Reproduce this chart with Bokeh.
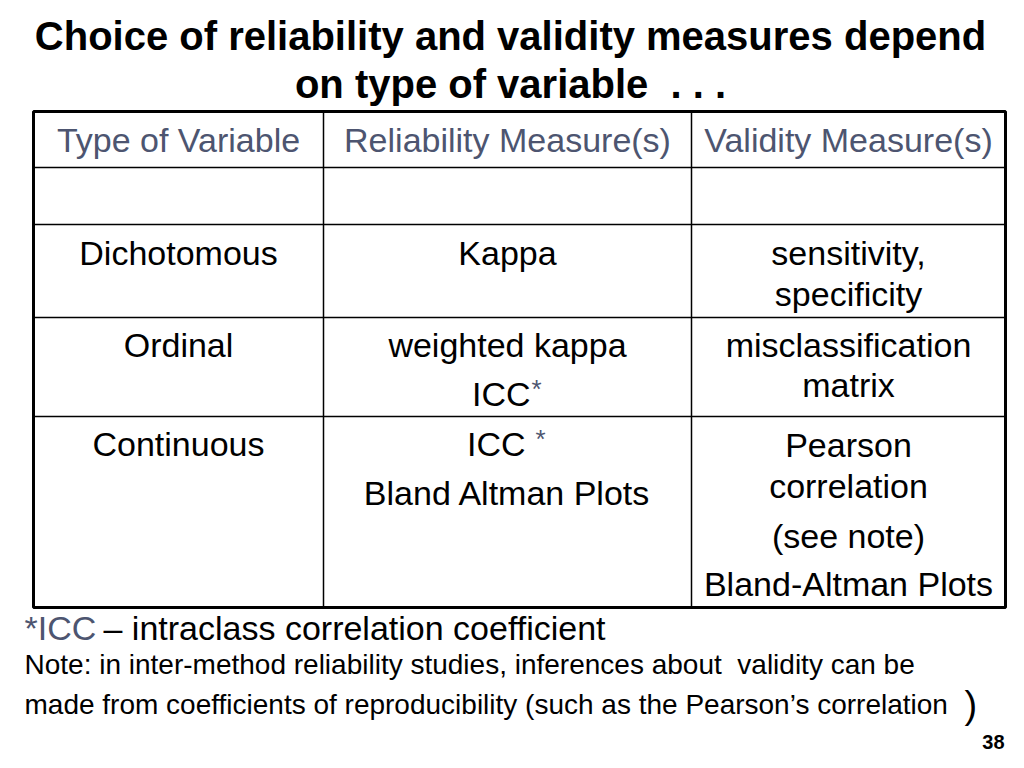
from bokeh.plotting import figure
from bokeh.models import Range1d
from bokeh.core.properties import value
from bokeh.embed import file_html
from bokeh.resources import INLINE

# ---------------- data (texts) ----------------
title_lines = ["Choice of reliability and validity measures depend", "on type of variable\u00a0 . . ."]
headers = ["Type of Variable", "Reliability Measure(s)", "Validity Measure(s)"]
var_types = ["Dichotomous", "Ordinal", "Continuous"]
reliability = [["Kappa"], ["weighted kappa", "ICC"], ["ICC", "Bland Altman Plots"]]
validity = [["sensitivity,", "specificity"], ["misclassification", "matrix"],
            ["Pearson", "correlation", "(see note)", "Bland-Altman Plots"]]
footnote_key = "*ICC"
footnote_text = "\u2013 intraclass correlation coefficient"
note_lines = ["Note: in inter-method reliability studies, inferences about\u00a0 validity can be",
              "made from coefficients of reproducibility (such as the Pearson\u2019s correlation"]
page_number = "38"

# ---------------- layout ----------------
FONT = value("Liberation Sans")
SLATE = "#4d5570"
col_edges = [33, 323, 691, 1005]
row_edges = [111, 167, 224, 317, 416, 607]
col_centers = [(a + b) / 2 for a, b in zip(col_edges[:-1], col_edges[1:])]

p = figure(width=1008, height=752, output_backend="svg", toolbar_location=None,
           x_range=Range1d(0, 1008), y_range=Range1d(752, 0), min_border=0)
p.axis.visible = False
p.grid.visible = False
p.outline_line_color = None
p.background_fill_color = "white"

# grid lines
inner_x = col_edges[1:-1]
p.segment(x0=inner_x, x1=inner_x, y0=[row_edges[0]] * len(inner_x), y1=[row_edges[-1]] * len(inner_x),
          line_color="black", line_width=1.5)
inner_y = row_edges[1:-1]
p.segment(x0=[col_edges[0]] * len(inner_y), x1=[col_edges[-1]] * len(inner_y), y0=inner_y, y1=inner_y,
          line_color="black", line_width=1.5)
# outer border
p.quad(left=[col_edges[0]], right=[col_edges[-1]], top=[row_edges[0]], bottom=[row_edges[-1]],
       fill_color=None, line_color="black", line_width=3)

# title
p.text(x=[510, 510], y=[35, 83], text=title_lines, text_font=FONT, text_font_style="bold",
       text_font_size="40px", text_align="center", text_baseline="middle", text_color="black")

# headers
hy = (row_edges[0] + row_edges[1]) / 2
p.text(x=col_centers, y=[hy] * 3, text=headers, text_font=FONT, text_font_size="34px",
       text_align="center", text_baseline="middle", text_color=SLATE)

body_size = "34px"
row_first_y = [252, 344, 443]

# column 1
p.text(x=[col_centers[0]] * 3, y=row_first_y, text=var_types, text_font=FONT, text_font_size=body_size,
       text_align="center", text_baseline="middle", text_color="black")

# column 2 (reliability), with slate asterisks on ICC
xs, ys, ts = [], [], []
ay = []
for r, lines in enumerate(reliability):
    for k, t in enumerate(lines):
        y = row_first_y[r] + 49 * k
        if t == "ICC":
            ay.append(y)
        else:
            xs.append(col_centers[1]); ys.append(y); ts.append(t)
p.text(x=xs, y=ys, text=ts, text_font=FONT, text_font_size=body_size,
       text_align="center", text_baseline="middle", text_color="black")
# "ICC*" and "ICC *"
icc_x = [col_centers[1] + 23, col_centers[1] + 18]
p.text(x=icc_x, y=ay, text=["ICC", "ICC"], text_font=FONT, text_font_size=body_size,
       text_align="right", text_baseline="middle", text_color="black")
p.text(x=[icc_x[0] + 1, icc_x[1] + 10], y=[a - 5 for a in ay], text=["*", "*"], text_font=FONT,
       text_font_size="26px", text_align="left", text_baseline="middle", text_color=SLATE)

# column 3 (validity)
vy_offsets = [[0, 41], [0, 40], [1, 42, 92, 140]]
xs, ys, ts = [], [], []
for r, lines in enumerate(validity):
    for k, t in enumerate(lines):
        xs.append(col_centers[2]); ys.append(row_first_y[r] + vy_offsets[r][k]); ts.append(t)
p.text(x=xs, y=ys, text=ts, text_font=FONT, text_font_size=body_size,
       text_align="center", text_baseline="middle", text_color="black")

# footnotes
p.text(x=[24], y=[627], text=[footnote_key], text_font=FONT, text_font_size="34px",
       text_align="left", text_baseline="middle", text_color=SLATE)
p.text(x=[103], y=[627], text=[footnote_text], text_font=FONT, text_font_size="34px",
       text_align="left", text_baseline="middle", text_color="black")
p.text(x=[24, 24], y=[664, 704], text=note_lines, text_font=FONT, text_font_size="28px",
       text_align="left", text_baseline="middle", text_color="black")
p.text(x=[964], y=[704], text=[")"], text_font=FONT, text_font_size="38px",
       text_align="left", text_baseline="middle", text_color="black")
p.text(x=[1004], y=[741], text=[page_number], text_font=FONT, text_font_style="bold",
       text_font_size="20px", text_align="right", text_baseline="middle", text_color="black")

open("out.html", "w").write(file_html(p, INLINE))
